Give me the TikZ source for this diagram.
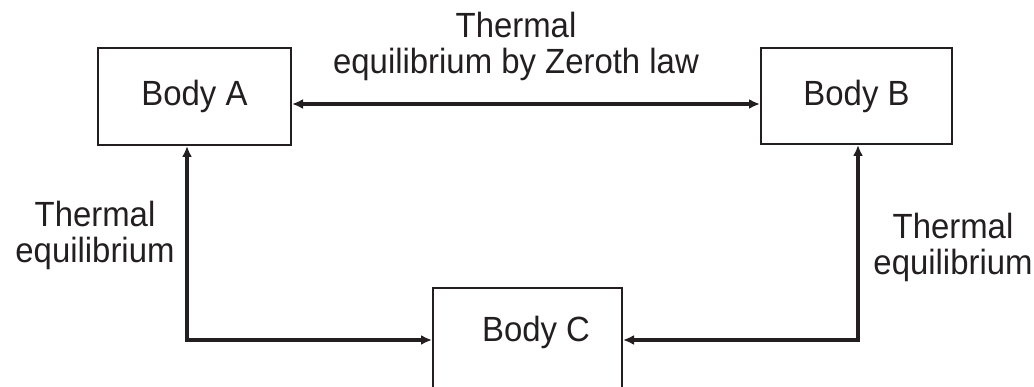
\documentclass[tikz,border=0pt]{standalone}
\usepackage{fontspec}
\setmainfont[FakeStretch=0.94]{Liberation Sans}
\usetikzlibrary{arrows.meta}
\definecolor{ink}{HTML}{231F20}
\tikzset{
  body/.style={draw=ink, line width=2pt, fill=white, inner sep=0pt,
    text=ink, font=\fontsize{35}{35.5}\selectfont},
  lbl/.style={text=ink, inner sep=0pt, align=center,
    font=\fontsize{35}{35.5}\selectfont},
  link/.style={draw=ink, line width=3.2pt, line join=miter,
    {Latex[length=11pt,width=10pt]}-{Latex[length=11pt,width=10pt]}}
}
\begin{document}
\begin{tikzpicture}[x=1pt,y=-1pt]
  \useasboundingbox (0,0) rectangle (1034,387);
  % the three bodies
  \node[body, minimum width=193pt, minimum height=97pt] (A) at (194.5,96.5) {Body A};
  \node[body, minimum width=191pt, minimum height=96pt] (B) at (856.5,96) {Body B};
  \node[body, minimum width=189pt, minimum height=112pt] (C) at (527.5,344) {};
  \node[lbl, anchor=base] (Ctext) at (536,342) {Body C};
  % corners of the elbow connectors
  \coordinate (cl) at (187,340);
  \coordinate (cr) at (858,340);
  % connectors
  \draw[link] (A.east |- 0,104) -- (B.west |- 0,104);
  \draw[link] (A.south -| cl) -- (cl) -- (C.west |- cl);
  \draw[link] (B.south -| cr) -- (cr) -- (C.east |- cr);
  % labels
  \node[lbl, anchor=north] (top) at (516,12) {Thermal\\equilibrium by Zeroth law};
  \node[lbl, anchor=north] (left) at (95,201) {Thermal\\equilibrium};
  \node[lbl, anchor=north] (right) at (953,213) {Thermal\\equilibrium};
\end{tikzpicture}
\end{document}
